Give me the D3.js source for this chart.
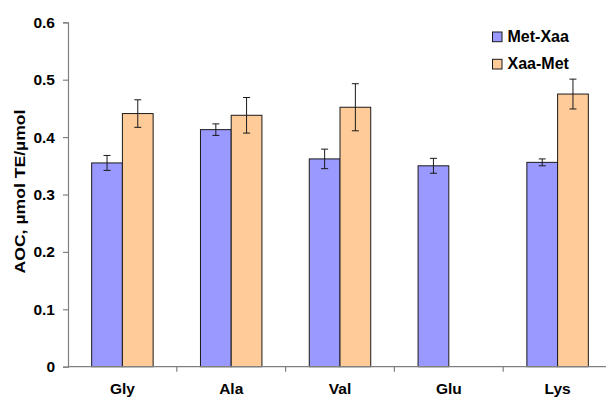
<!DOCTYPE html>
<html>
<head>
<meta charset="utf-8">
<script src="https://cdn.jsdelivr.net/npm/d3@7"></script>
<style>
  html, body { margin: 0; padding: 0; background: #fff; }
  svg { display: block; }
  text { font-family: "Liberation Sans", Arial, sans-serif; font-weight: bold; fill: #000; }
</style>
</head>
<body>
<svg id="chart" width="606" height="399"></svg>
<script>
// Antioxidant capacity of methionine dipeptides
const categories = ["Gly", "Ala", "Val", "Glu", "Lys"];
const seriesNames = ["Met-Xaa", "Xaa-Met"];
const metXaa    = [0.355, 0.413, 0.362, 0.350, 0.356];
const metXaaErr = [0.013, 0.010, 0.017, 0.013, 0.006];
const xaaMet    = [0.441, 0.438, 0.452, null, 0.475];
const xaaMetErr = [0.024, 0.031, 0.041, null, 0.026];
const yTicks = [0, 0.1, 0.2, 0.3, 0.4, 0.5, 0.6];
const colors = ["#9999ff", "#ffcc99"];

const svg = d3.select("#chart");
const plotLeft = 68, plotRight = 612, plotTop = 22.3, plotBottom = 366.7;

const y = d3.scaleLinear().domain([0, 0.6]).range([plotBottom, plotTop]);
const x0 = d3.scaleBand().domain(categories).range([plotLeft, plotRight]).paddingInner(0).paddingOuter(0);
const x1 = d3.scaleBand().domain(seriesNames).range([0, x0.bandwidth()]).paddingInner(0).paddingOuter(0.77);

const rows = categories.map((c, i) => ({
  cat: c,
  vals: [
    { s: seriesNames[0], v: metXaa[i], e: metXaaErr[i], color: colors[0] },
    { s: seriesNames[1], v: xaaMet[i], e: xaaMetErr[i], color: colors[1] }
  ].filter(d => d.v != null)
}));

// Y axis
const yAxis = d3.axisLeft(y).tickValues(yTicks).tickSize(5).tickPadding(8)
  .tickFormat(d => d === 0 ? "0" : d3.format(".1f")(d));
const gy = svg.append("g").attr("transform", `translate(${plotLeft},0)`).call(yAxis);
gy.select(".domain").attr("stroke", "#808080").attr("stroke-width", 1.2);
gy.selectAll(".tick line").attr("stroke", "#808080").attr("stroke-width", 1.2);
gy.selectAll(".tick text").style("font-size", "15.5px").attr("font-family", null).attr("fill", "#000");

// Bars
const groups = svg.append("g").selectAll("g").data(rows).join("g")
  .attr("transform", d => `translate(${x0(d.cat)},0)`);

groups.selectAll("rect").data(d => d.vals).join("rect")
  .attr("x", d => x1(d.s))
  .attr("y", d => y(d.v))
  .attr("width", x1.bandwidth())
  .attr("height", d => y(0) - y(d.v))
  .attr("fill", d => d.color)
  .attr("stroke", "#1a1a1a")
  .attr("stroke-width", 1);

// Error bars
const eb = groups.selectAll("g.err").data(d => d.vals).join("g").attr("class", "err")
  .attr("stroke", "#1a1a1a").attr("stroke-width", 1);
eb.append("line")
  .attr("x1", d => x1(d.s) + x1.bandwidth() / 2).attr("x2", d => x1(d.s) + x1.bandwidth() / 2)
  .attr("y1", d => y(d.v + d.e)).attr("y2", d => y(d.v - d.e));
eb.append("line")
  .attr("x1", d => x1(d.s) + x1.bandwidth() / 2 - 3.5).attr("x2", d => x1(d.s) + x1.bandwidth() / 2 + 3.5)
  .attr("y1", d => y(d.v + d.e)).attr("y2", d => y(d.v + d.e));
eb.append("line")
  .attr("x1", d => x1(d.s) + x1.bandwidth() / 2 - 3.5).attr("x2", d => x1(d.s) + x1.bandwidth() / 2 + 3.5)
  .attr("y1", d => y(d.v - d.e)).attr("y2", d => y(d.v - d.e));

// X axis with ticks between categories
const gx = svg.append("g");
gx.append("line").attr("x1", plotLeft).attr("x2", plotRight).attr("y1", y(0)).attr("y2", y(0))
  .attr("stroke", "#808080").attr("stroke-width", 1.2);
gx.selectAll("line.tk").data(categories.slice(1)).join("line").attr("class", "tk")
  .attr("x1", d => x0(d)).attr("x2", d => x0(d))
  .attr("y1", y(0)).attr("y2", y(0) + 5)
  .attr("stroke", "#808080").attr("stroke-width", 1.2);
gx.selectAll("text").data(categories).join("text")
  .attr("x", d => x0(d) + x0.bandwidth() / 2)
  .attr("y", y(0) + 27.5)
  .attr("text-anchor", "middle")
  .style("font-size", "15.5px")
  .text(d => d);

// Y axis title
svg.append("text")
  .attr("transform", `translate(25,${(plotTop + plotBottom) / 2 - 3}) rotate(-90)`)
  .attr("text-anchor", "middle")
  .attr("textLength", 164)
  .attr("lengthAdjust", "spacingAndGlyphs")
  .style("font-size", "15.5px")
  .text("AOC, µmol TE/µmol");

// Legend
const legend = svg.append("g").attr("transform", "translate(492.5,32)");
const li = legend.selectAll("g").data(seriesNames).join("g")
  .attr("transform", (d, i) => `translate(0,${i * 27.3})`);
li.append("rect").attr("width", 9.5).attr("height", 9.7)
  .attr("fill", (d, i) => colors[i]).attr("stroke", "#1a1a1a").attr("stroke-width", 1);
li.append("text").attr("x", 15).attr("y", 10)
  .style("font-size", "16px")
  .text(d => d);
</script>
</body>
</html>
